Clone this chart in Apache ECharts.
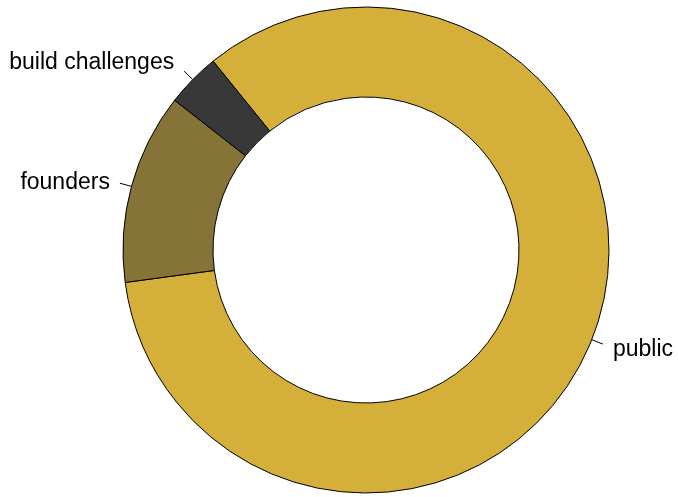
<!DOCTYPE html>
<html>
<head>
<meta charset="utf-8">
<title>pie</title>
<style>
  html, body { margin: 0; padding: 0; background: #fff; }
  #container { width: 678px; height: 497px; }
</style>
</head>
<body>
<div id="container"></div>
<script src="https://cdn.jsdelivr.net/npm/echarts@6/dist/echarts.min.js"></script>
<script>
    // slices in clockwise order, starting at the public/build challenges edge
    var names = ['public', 'founders', 'build challenges'];
    var values = [83.7, 12.7, 3.6];
    var colors = ['#D4AF3A', '#857337', '#383838'];
    // small vertical nudges of the label text against the end of its line
    var labelShift = [[0, 6], [0, -1], [0, -9]];

    var dom = document.getElementById('container');
    var myChart = echarts.init(dom);

    var data = [];
    for (var i = 0; i < names.length; i++) {
        data.push({
            name: names[i],
            value: values[i],
            itemStyle: { color: colors[i] },
            label: { offset: labelShift[i] }
        });
    }

    var option = {
        animation: false,
        series: [
            {
                type: 'pie',
                center: [366, 250],
                radius: [153, 243],
                startAngle: 129,
                clockwise: true,
                avoidLabelOverlap: false,
                data: data,
                itemStyle: {
                    borderColor: '#000',
                    borderWidth: 1
                },
                label: {
                    show: true,
                    position: 'outside',
                    fontFamily: 'Liberation Sans, Arial, sans-serif',
                    fontSize: 23,
                    color: '#000',
                    distanceToLabelLine: 10
                },
                labelLine: {
                    show: true,
                    length: 12,
                    length2: 0,
                    lineStyle: { color: '#000', width: 1 }
                },
                emphasis: { disabled: true }
            }
        ]
    };

    myChart.setOption(option, true);
</script>
</body>
</html>
